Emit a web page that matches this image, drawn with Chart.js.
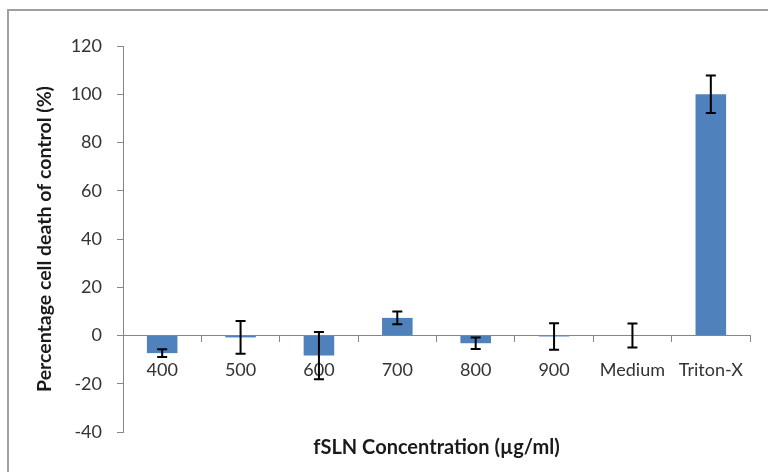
<!DOCTYPE html>
<html>
<head>
<meta charset="utf-8">
<script src="https://cdn.jsdelivr.net/npm/chart.js@4"></script>
<style>
  html, body { margin: 0; padding: 0; background: #fff; overflow: hidden; }
  #frame {
    position: absolute; left: 7px; top: 9px; width: 800px; height: 500px;
    border-left: 2px solid #a0a0a0; border-top: 2px solid #a0a0a0;
  }
  #wrap { position: absolute; left: 0; top: 0; width: 768px; height: 472px; }
</style>
</head>
<body>
<div id="frame"></div>
<div id="wrap"><canvas id="cellDeathChart"></canvas></div>
<script>
// ---------------- data ----------------
const categories = ['400', '500', '600', '700', '800', '900', 'Medium', 'Triton-X'];
const deathValues = [-7.3, -0.8, -8.3, 7.3, -3.2, -0.4, 0, 100];
const deathErrors = [1.6, 6.8, 9.8, 2.6, 2.4, 5.5, 5.0, 7.8];
const yMin = -40;
const yMax = 120;
const yStep = 20;

// draws the black error bars on top of each bar
const errorBarPlugin = {
  id: 'errorBars',
  afterDatasetsDraw(chart) {
    const ctx = chart.ctx;
    const meta = chart.getDatasetMeta(0);
    const yScale = chart.scales.y;
    ctx.save();
    ctx.strokeStyle = '#000';
    ctx.lineWidth = 2;
    meta.data.forEach(function(bar, i) {
      const top = yScale.getPixelForValue(deathValues[i] + deathErrors[i]);
      const bottom = yScale.getPixelForValue(deathValues[i] - deathErrors[i]);
      const x = bar.x;
      ctx.beginPath();
      ctx.moveTo(x, top); ctx.lineTo(x, bottom);
      ctx.moveTo(x - 5, top); ctx.lineTo(x + 5, top);
      ctx.moveTo(x - 5, bottom); ctx.lineTo(x + 5, bottom);
      ctx.stroke();
    });
    ctx.restore();
  }
};

Chart.defaults.font.family = 'Lato';
Chart.defaults.color = '#333';

new Chart(document.getElementById('cellDeathChart'), {
  type: 'bar',
  data: {
    labels: categories,
    datasets: [{
      data: deathValues,
      backgroundColor: '#4F81BD',
      borderWidth: 0,
      categoryPercentage: 1.0,
      barPercentage: 0.39
    }]
  },
  options: {
    responsive: true,
    maintainAspectRatio: false,
    animation: false,
    layout: { padding: { left: 8, right: 18, top: 46, bottom: 4 } },
    plugins: {
      legend: { display: false },
      tooltip: { enabled: false },
      title: {
        display: true,
        position: 'bottom',
        fullSize: false,
        text: 'fSLN Concentration (µg/ml)',
        color: '#1a1a1a',
        font: { size: 20, weight: 'bold' },
        padding: { top: 4, bottom: 8 }
      }
    },
    scales: {
      x: {
        position: { y: 0 },
        grid: { offset: true, drawOnChartArea: false, tickLength: 6, color: '#868686' },
        border: { color: '#868686', width: 1 },
        ticks: { font: { size: 18 }, padding: 18, maxRotation: 0, autoSkip: false }
      },
      y: {
        min: yMin,
        max: yMax,
        afterFit: function(scale) { scale.width = 115; },
        grid: { drawOnChartArea: false, tickLength: 6, color: '#868686' },
        border: { color: '#868686', width: 1 },
        ticks: { stepSize: yStep, font: { size: 18 }, padding: 15 },
        title: {
          display: true,
          text: 'Percentage cell death of control (%)',
          color: '#1a1a1a',
          font: { size: 19.5, weight: 'bold' },
          padding: { top: 25, bottom: 0 }
        }
      }
    }
  },
  plugins: [errorBarPlugin]
});
</script>
</body>
</html>
